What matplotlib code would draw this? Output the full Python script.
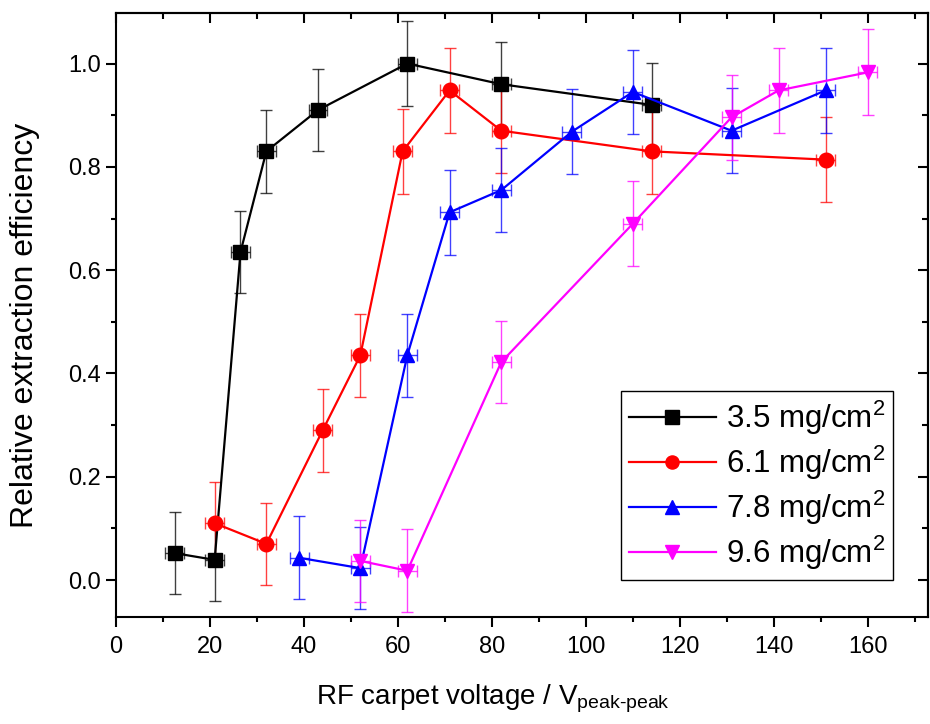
import matplotlib
matplotlib.use('Agg')
import matplotlib.pyplot as plt
from matplotlib.ticker import MultipleLocator, FormatStrFormatter

plt.rcParams['font.family'] = ['Liberation Sans', 'DejaVu Sans']
plt.rcParams['mathtext.fontset'] = 'custom'
plt.rcParams['mathtext.rm'] = 'Liberation Sans'
plt.rcParams['mathtext.it'] = 'Liberation Sans:italic'

# 3.5 mg/cm2
x1 = [12.5, 21, 26.5, 32, 43, 62, 82, 114]
y1 = [0.052, 0.039, 0.635, 0.830, 0.910, 1.000, 0.960, 0.920]
e1 = [0.08, 0.08, 0.08, 0.08, 0.08, 0.082, 0.082, 0.082]
# 6.1 mg/cm2
x2 = [21, 32, 44, 52, 61, 71, 82, 114, 151]
y2 = [0.110, 0.070, 0.290, 0.435, 0.830, 0.948, 0.870, 0.830, 0.814]
e2 = [0.08, 0.08, 0.08, 0.08, 0.082, 0.082, 0.082, 0.082, 0.082]
# 7.8 mg/cm2
x3 = [39, 52, 62, 71, 82, 97, 110, 131, 151]
y3 = [0.043, 0.023, 0.435, 0.712, 0.755, 0.868, 0.945, 0.870, 0.948]
e3 = [0.08, 0.08, 0.08, 0.082, 0.082, 0.082, 0.082, 0.082, 0.082]
# 9.6 mg/cm2
x4 = [52, 62, 82, 110, 131, 141, 160]
y4 = [0.037, 0.018, 0.422, 0.690, 0.896, 0.948, 0.983]
e4 = [0.08, 0.08, 0.08, 0.082, 0.082, 0.082, 0.083]
xe = 2.0

labels = ['3.5 mg/cm$^2$', '6.1 mg/cm$^2$', '7.8 mg/cm$^2$', '9.6 mg/cm$^2$']
colors = ['black', 'red', 'blue', 'magenta']
markers = ['s', 'o', '^', 'v']

fig = plt.figure(figsize=(9.3, 7.24), dpi=100)
ax = fig.add_axes([0.1247, 0.1478, 0.8731, 0.8343])

series = [(x1, y1, e1), (x2, y2, e2), (x3, y3, e3), (x4, y4, e4)]
handles = []
for (x, y, e), c, m, lab in zip(series, colors, markers, labels):
    ax.errorbar(x, y, yerr=e, xerr=xe, fmt='none', ecolor=c, elinewidth=1,
                capsize=4, capthick=1, alpha=0.75, zorder=2)
    ln, = ax.plot(x, y, color=c, marker=m, markersize=10.5, linewidth=1.6,
                  label=lab, zorder=3)
    handles.append(ln)

ax.set_xlim(0, 172.8)
ax.set_ylim(-0.0716, 1.098)
ax.xaxis.set_major_locator(MultipleLocator(20))
ax.xaxis.set_minor_locator(MultipleLocator(10))
ax.yaxis.set_major_locator(MultipleLocator(0.2))
ax.yaxis.set_minor_locator(MultipleLocator(0.1))
ax.yaxis.set_major_formatter(FormatStrFormatter('%.1f'))
ax.tick_params(which='major', direction='out', length=7, width=1.5, labelsize=17)
ax.tick_params(which='minor', direction='out', length=3.5, width=1.5)
ax.tick_params(axis='x', which='major', pad=7)
ax.tick_params(axis='y', which='major', pad=4)
for s in ax.spines.values():
    s.set_linewidth(1.5)

top = ax.secondary_xaxis('top')
top.xaxis.set_major_locator(MultipleLocator(20))
top.xaxis.set_minor_locator(MultipleLocator(10))
top.tick_params(which='major', direction='in', length=7, width=1.5, labeltop=False)
top.tick_params(which='minor', direction='in', length=4, width=1.5)
right = ax.secondary_yaxis('right')
right.yaxis.set_major_locator(MultipleLocator(0.2))
right.yaxis.set_minor_locator(MultipleLocator(0.1))
right.tick_params(which='major', direction='in', length=7, width=1.5, labelright=False)
right.tick_params(which='minor', direction='in', length=4, width=1.5)
for sa in (top, right):
    for s in sa.spines.values():
        s.set_linewidth(1.5)

ax.set_xlabel(r'RF carpet voltage / V$_{\mathrm{peak\text{-}peak}}$', fontsize=20)
ax.xaxis.set_label_coords(0.4637, -0.108)
ax.set_ylabel('Relative extraction efficiency', fontsize=23)
ax.yaxis.set_label_coords(-0.0936, 0.4826)

leg = ax.legend(handles=handles, loc='lower right', bbox_to_anchor=(0.957, 0.061),
                borderaxespad=0, fontsize=22.5, fancybox=False, framealpha=1,
                edgecolor='black', handlelength=2.8, labelspacing=0.21,
                borderpad=0.26, handletextpad=0.3, markerscale=0.9)
leg.get_frame().set_linewidth(1.0)

fig.savefig('out.png', dpi=100)
